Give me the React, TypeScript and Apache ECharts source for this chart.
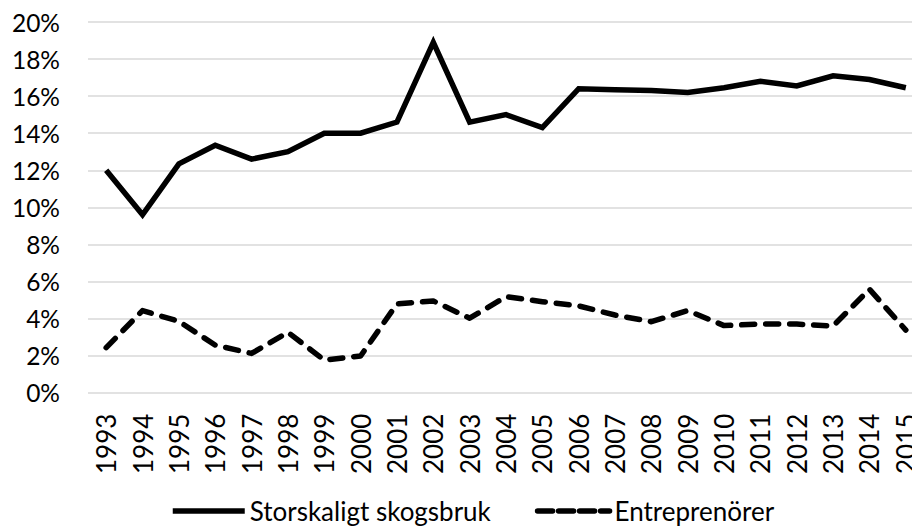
import React, { useEffect, useRef } from "react";
import * as echarts from "echarts";

const years = ["1993","1994","1995","1996","1997","1998","1999","2000","2001","2002","2003","2004","2005","2006","2007","2008","2009","2010","2011","2012","2013","2014","2015"];
const storskaligt = [12.0, 9.6, 12.35, 13.35, 12.6, 13.0, 14.0, 14.0, 14.6, 18.9, 14.6, 15.0, 14.3, 16.4, 16.35, 16.3, 16.2, 16.45, 16.8, 16.55, 17.1, 16.9, 16.45];
const entreprenorer = [2.43, 4.43, 3.85, 2.57, 2.12, 3.26, 1.76, 1.98, 4.79, 4.95, 4.02, 5.18, 4.91, 4.68, 4.19, 3.83, 4.43, 3.62, 3.71, 3.7, 3.6, 5.58, 3.38];
const seriesNames = ["Storskaligt skogsbruk", "Entreprenörer"];

export default function App() {
  const ref = useRef<HTMLDivElement>(null);
  useEffect(() => {
    if (!ref.current) return;
    const chart = echarts.init(ref.current, undefined, { renderer: "svg" });
    const font = "Lato, 'Open Sans', sans-serif";
    chart.setOption({
      animation: false,
      backgroundColor: "#ffffff",
      grid: { left: 88, top: 22, width: 836, height: 370.7, containLabel: false },
      legend: {
        left: 165,
        top: 493,
        itemWidth: 72,
        itemHeight: 14,
        itemGap: 44,
        textStyle: { fontFamily: font, fontSize: 26, color: "#000" },
        itemStyle: { opacity: 0 },
        lineStyle: { width: 5.5 },
        data: [
          { name: seriesNames[0] },
          { name: seriesNames[1], lineStyle: { type: [15, 6], cap: "round", width: 5.5 } },
        ],
      },
      xAxis: {
        type: "category",
        data: years,
        boundaryGap: true,
        axisLine: { show: false },
        axisTick: { show: false },
        axisLabel: { rotate: 90, margin: 21, fontFamily: font, fontSize: 26, color: "#000", interval: 0 },
      },
      yAxis: {
        type: "value",
        min: 0,
        max: 20,
        interval: 2,
        axisLine: { show: false },
        axisTick: { show: false },
        splitLine: { lineStyle: { color: "#d9d9d9", width: 1.5 } },
        axisLabel: { formatter: "{value}%", margin: 28, fontFamily: font, fontSize: 24.5, color: "#000" },
      },
      series: [
        {
          name: seriesNames[0],
          type: "line",
          data: storskaligt,
          symbol: "none",
          lineStyle: { color: "#000", width: 5.5, join: "miter" },
          itemStyle: { color: "#000" },
        },
        {
          name: seriesNames[1],
          type: "line",
          data: entreprenorer,
          symbol: "none",
          lineStyle: { color: "#000", width: 5.5, type: [13, 11], cap: "round", join: "round" },
          itemStyle: { color: "#000" },
        },
      ],
    });
    return () => chart.dispose();
  }, []);
  return (
    <div style={{ position: "fixed", left: 0, top: 0, width: 912, height: 528, overflow: "hidden", background: "#fff" }}>
      <div ref={ref} style={{ width: 936, height: 528 }} />
    </div>
  );
}
